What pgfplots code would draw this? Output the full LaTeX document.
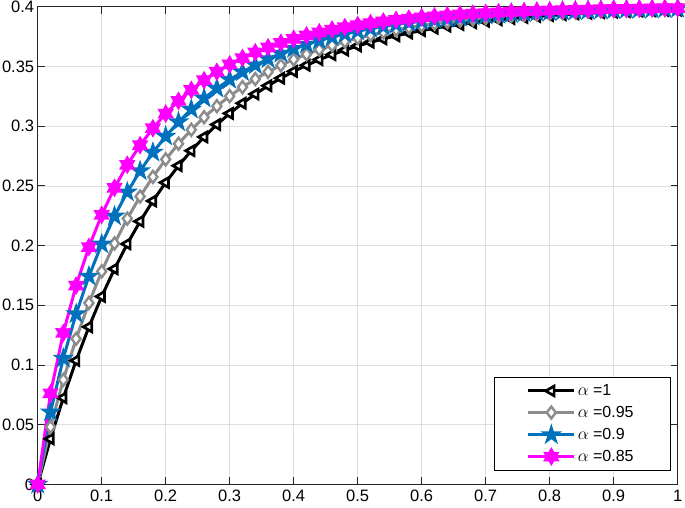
\documentclass[border=0pt]{standalone}
\usepackage{fontspec}
\setmainfont{Liberation Sans}
\usepackage{pgfplots}
\usepackage{pgfplotstable}
\pgfplotsset{compat=1.18}
\usetikzlibrary{plotmarks}

\definecolor{mblue}{RGB}{0,114,189}
\definecolor{mgray}{RGB}{140,140,140}
\definecolor{mmag}{RGB}{255,0,255}
\definecolor{axcol}{RGB}{38,38,38}
\definecolor{gridcol}{RGB}{223,223,223}

\pgfdeclareplotmark{pentagram*}{%
 \pgfpathmoveto{\pgfpointpolar{90}{\pgfplotmarksize}}%
 \pgfpathlineto{\pgfpointpolar{126}{0.382\pgfplotmarksize}}%
 \pgfpathlineto{\pgfpointpolar{162}{\pgfplotmarksize}}%
 \pgfpathlineto{\pgfpointpolar{198}{0.382\pgfplotmarksize}}%
 \pgfpathlineto{\pgfpointpolar{234}{\pgfplotmarksize}}%
 \pgfpathlineto{\pgfpointpolar{270}{0.382\pgfplotmarksize}}%
 \pgfpathlineto{\pgfpointpolar{306}{\pgfplotmarksize}}%
 \pgfpathlineto{\pgfpointpolar{342}{0.382\pgfplotmarksize}}%
 \pgfpathlineto{\pgfpointpolar{18}{\pgfplotmarksize}}%
 \pgfpathlineto{\pgfpointpolar{54}{0.382\pgfplotmarksize}}%
 \pgfpathclose
 \pgfusepathqfillstroke}

\pgfdeclareplotmark{hexagram*}{%
 \pgfpathmoveto{\pgfpointpolar{90}{\pgfplotmarksize}}%
 \pgfpathlineto{\pgfpointpolar{120}{0.577\pgfplotmarksize}}%
 \pgfpathlineto{\pgfpointpolar{150}{\pgfplotmarksize}}%
 \pgfpathlineto{\pgfpointpolar{180}{0.577\pgfplotmarksize}}%
 \pgfpathlineto{\pgfpointpolar{210}{\pgfplotmarksize}}%
 \pgfpathlineto{\pgfpointpolar{240}{0.577\pgfplotmarksize}}%
 \pgfpathlineto{\pgfpointpolar{270}{\pgfplotmarksize}}%
 \pgfpathlineto{\pgfpointpolar{300}{0.577\pgfplotmarksize}}%
 \pgfpathlineto{\pgfpointpolar{330}{\pgfplotmarksize}}%
 \pgfpathlineto{\pgfpointpolar{0}{0.577\pgfplotmarksize}}%
 \pgfpathlineto{\pgfpointpolar{30}{\pgfplotmarksize}}%
 \pgfpathlineto{\pgfpointpolar{60}{0.577\pgfplotmarksize}}%
 \pgfpathclose
 \pgfusepathqfillstroke}

\pgfplotstableread{
x a1 a95 a90 a85
0 0 0 0 0
0.02 0.0381 0.0481 0.0606 0.0763
0.04 0.0725 0.0876 0.1056 0.1268
0.06 0.1037 0.1219 0.1428 0.1665
0.08 0.1319 0.1519 0.1743 0.1988
0.10 0.1574 0.1784 0.2012 0.2257
0.12 0.1805 0.2018 0.2246 0.2484
0.14 0.2014 0.2226 0.2448 0.2677
0.16 0.2203 0.2411 0.2625 0.2841
0.18 0.2374 0.2575 0.2780 0.2983
0.20 0.2528 0.2722 0.2915 0.3105
0.22 0.2669 0.2853 0.3035 0.3212
0.24 0.2795 0.2970 0.3141 0.3304
0.26 0.2910 0.3075 0.3234 0.3385
0.28 0.3014 0.3168 0.3316 0.3455
0.30 0.3107 0.3252 0.3390 0.3517
0.32 0.3192 0.3327 0.3454 0.3571
0.34 0.3269 0.3395 0.3512 0.3619
0.36 0.3339 0.3455 0.3563 0.3661
0.38 0.3402 0.3510 0.3609 0.3698
0.40 0.3459 0.3559 0.3650 0.3731
0.42 0.3510 0.3602 0.3686 0.3760
0.44 0.3557 0.3642 0.3718 0.3786
0.46 0.3599 0.3677 0.3747 0.3809
0.48 0.3637 0.3709 0.3773 0.3829
0.50 0.3672 0.3738 0.3796 0.3847
0.52 0.3703 0.3763 0.3817 0.3863
0.54 0.3731 0.3787 0.3835 0.3877
0.56 0.3757 0.3808 0.3852 0.3890
0.58 0.3780 0.3826 0.3867 0.3901
0.60 0.3801 0.3843 0.3880 0.3911
0.62 0.3820 0.3859 0.3892 0.3920
0.64 0.3837 0.3872 0.3903 0.3929
0.66 0.3852 0.3885 0.3912 0.3936
0.68 0.3867 0.3896 0.3921 0.3942
0.70 0.3879 0.3906 0.3929 0.3948
0.72 0.3891 0.3915 0.3936 0.3953
0.74 0.3901 0.3923 0.3942 0.3958
0.76 0.3911 0.3931 0.3948 0.3962
0.78 0.3919 0.3937 0.3953 0.3966
0.80 0.3927 0.3943 0.3958 0.3969
0.82 0.3934 0.3949 0.3962 0.3972
0.84 0.3940 0.3954 0.3965 0.3975
0.86 0.3946 0.3958 0.3969 0.3977
0.88 0.3951 0.3962 0.3972 0.3980
0.90 0.3956 0.3966 0.3974 0.3982
0.92 0.3960 0.3969 0.3977 0.3983
0.94 0.3964 0.3972 0.3979 0.3985
0.96 0.3967 0.3975 0.3981 0.3986
0.98 0.3970 0.3977 0.3983 0.3988
1.00 0.3973 0.3979 0.3985 0.3989
}\datatable

\begin{document}
\begin{tikzpicture}
\begin{axis}[
  name=ax,
  scale only axis,
  width=640pt, height=477.6pt,
  xmin=0, xmax=1, ymin=0, ymax=0.4,
  xtick={0,0.1,0.2,0.3,0.4,0.5,0.6,0.7,0.8,0.9,1},
  xticklabels={0,0.1,0.2,0.3,0.4,0.5,0.6,0.7,0.8,0.9,1},
  ytick={0,0.05,0.1,0.15,0.2,0.25,0.3,0.35,0.4},
  yticklabels={0,0.05,0.1,0.15,0.2,0.25,0.3,0.35,0.4},
  grid=major,
  grid style={line width=0.6pt, draw=gridcol},
  axis line style={line width=0.8pt, draw=axcol},
  tick style={line width=0.8pt, draw=axcol},
  tick align=inside,
  major tick length=7pt,
  ticklabel style={font=\fontsize{16.5}{19}\selectfont, text=black},
  xticklabel style={inner sep=0pt, yshift=-5.5pt},
  clip=false,
  legend cell align=left,
  legend style={at={(0.988,0.030)}, anchor=south east, draw=black,
    font=\fontsize{16}{19}\selectfont, row sep=5pt,
    inner xsep=2pt, inner ysep=5pt},
  legend image code/.code={%
    \path (-31pt,0pt);
    \draw[mark repeat=2,mark phase=2] plot coordinates {(0pt,0pt) (23pt,0pt) (46pt,0pt)};
  },
]
\addplot[black, line width=3pt, mark=triangle*, mark size=5.6pt,
  mark options={rotate=90, fill=white, line width=2.7pt, solid}]
  table[x=x, y=a1] {\datatable};
\addlegendentry{\makebox[88pt][l]{$\alpha$ =1}}
\addplot[mgray, line width=3pt, mark=diamond*, mark size=6pt,
  mark options={fill=white, line width=2.4pt, solid}]
  table[x=x, y=a95] {\datatable};
\addlegendentry{\makebox[88pt][l]{$\alpha$ =0.95}}
\addplot[mblue, line width=3pt, mark=pentagram*, mark size=9pt,
  mark options={fill=mblue, line width=1.5pt, solid}]
  table[x=x, y=a90] {\datatable};
\addlegendentry{\makebox[88pt][l]{$\alpha$ =0.9}}
\addplot[mmag, line width=3pt, mark=hexagram*, mark size=8pt,
  mark options={fill=mmag, line width=1.5pt, solid}]
  table[x=x, y=a85] {\datatable};
\addlegendentry{\makebox[88pt][l]{$\alpha$ =0.85}}
\end{axis}
\pgfresetboundingbox
\path[use as bounding box] ([shift={(-37.7pt,-23.6pt)}]ax.south west) rectangle ([shift={(7.3pt,6.8pt)}]ax.north east);
\end{tikzpicture}
\end{document}
